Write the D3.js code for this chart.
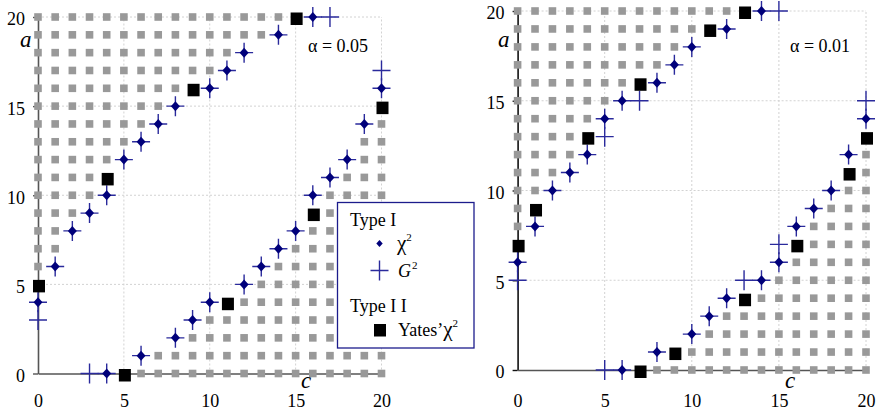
<!DOCTYPE html>
<html>
<head>
<meta charset="utf-8">
<script src="https://cdn.jsdelivr.net/npm/d3@7"></script>
<style>
  html, body { margin: 0; padding: 0; background: #fff; }
  svg, svg text { font-family: "Liberation Serif", "Times New Roman", serif; }
  svg { display: block; }
</style>
</head>
<body>
<svg id="chart" width="880" height="415"></svg>
<script>
// ---- data -----------------------------------------------------------
// Lattice is (c, a) with c, a = 0..20.
const tickValues = [0, 5, 10, 15, 20];
const gridValues = [5, 10, 15, 20];
const panelTitles = ["α = 0.05", "α = 0.01"];

// alpha = 0.05
// grey cells, per row a: upper-left run is c = 0..upperEnd[a], lower-right run is c = lowerStart[a]..20
const greyUpperEnd05   = [-1, -1, -1, -1, -1, -1, 0, 1, 1, 2, 3, 3, 4, 5, 6, 7, 8, 10, 11, 13, 14];
const greyLowerStart05 = [6, 7, 9, 10, 12, 13, 14, 15, 16, 17, 17, 18, 19, 19, 20, 21, 21, 21, 21, 21, 21];
const chi2Points05 = [
  [0, 4], [1, 6], [2, 8], [3, 9], [4, 10], [5, 12], [6, 13], [7, 14], [8, 15],
  [10, 16], [11, 17], [12, 18], [14, 19], [16, 20],
  [4, 0], [6, 1], [8, 2], [9, 3], [10, 4], [12, 5], [13, 6], [14, 7], [15, 8],
  [16, 10], [17, 11], [18, 12], [19, 14], [20, 16]
];
const g2Points05 = [
  [0, 3], [0, 4], [1, 6], [2, 8], [3, 9], [4, 10], [5, 12], [6, 13], [7, 14], [8, 15],
  [10, 16], [11, 17], [12, 18], [14, 19], [16, 20], [17, 20],
  [3, 0], [4, 0], [6, 1], [8, 2], [9, 3], [10, 4], [12, 5], [13, 6], [14, 7], [15, 8],
  [16, 10], [17, 11], [18, 12], [19, 14], [20, 16], [20, 17]
];
const yatesPoints05 = [[0, 5], [4, 11], [9, 16], [15, 20], [5, 0], [11, 4], [16, 9], [20, 15]];

// alpha = 0.01
const greyUpperEnd01   = [-1, -1, -1, -1, -1, -1, -1, -1, 0, 0, 1, 2, 3, 3, 4, 5, 6, 8, 9, 10, 12];
const greyLowerStart01 = [8, 10, 11, 12, 14, 15, 16, 17, 17, 18, 19, 20, 20, 21, 21, 21, 21, 21, 21, 21, 21];
const chi2Points01 = [
  [0, 6], [1, 8], [2, 10], [3, 11], [4, 12], [5, 14], [6, 15], [8, 16], [9, 17],
  [10, 18], [12, 19], [14, 20],
  [6, 0], [8, 1], [10, 2], [11, 3], [12, 4], [14, 5], [15, 6], [16, 8], [17, 9],
  [18, 10], [19, 12], [20, 14]
];
const g2Points01 = [
  [0, 5], [0, 6], [1, 8], [2, 10], [3, 11], [4, 12], [5, 13], [5, 14], [6, 15], [7, 15],
  [8, 16], [9, 17], [10, 18], [12, 19], [14, 20], [15, 20],
  [5, 0], [6, 0], [8, 1], [10, 2], [11, 3], [12, 4], [13, 5], [14, 5], [15, 6], [15, 7],
  [16, 8], [17, 9], [18, 10], [19, 12], [20, 14], [20, 15]
];
const yatesPoints01 = [[0, 7], [1, 9], [4, 13], [7, 16], [11, 19], [13, 20], [7, 0], [9, 1], [13, 4], [16, 7], [19, 11], [20, 13]];

// ---- drawing --------------------------------------------------------
const svg = d3.select("#chart");
const SERIF = '"Liberation Serif", "Times New Roman", serif';

const COLORS = {
  grey: "#999999",
  grid: "#d2d2d2",
  diamond: "#00007a",
  cross: "#2a2a9c",
  yates: "#000000",
  legendBorder: "#1c1c8c"
};

const diamondPath = "M0,-5L4.5,0L0,5L-4.5,0Z";
const crossPath = "M-9,0H9M0,-10V10";

function greyCells(upperEnd, lowerStart) {
  const cells = [];
  upperEnd.forEach((end, a) => {
    for (let c = 0; c <= end; c++) cells.push([c, a]);
  });
  lowerStart.forEach((start, a) => {
    for (let c = start; c <= 20; c++) cells.push([c, a]);
  });
  return cells;
}

function drawPanel(layout, data) {
  const x = d3.scaleLinear().domain([0, 20]).range([layout.x0, layout.x1]);
  const y = d3.scaleLinear().domain([0, 20]).range([layout.y0, layout.y1]);
  const g = svg.append("g");

  // dotted grid
  const grid = g.append("g")
    .attr("stroke", COLORS.grid)
    .attr("stroke-width", 1)
    .attr("stroke-dasharray", "2,2");
  grid.selectAll("line.v").data(gridValues).join("line")
    .attr("class", "v")
    .attr("x1", d => x(d)).attr("x2", d => x(d))
    .attr("y1", y(0)).attr("y2", y(20));
  grid.selectAll("line.h").data(gridValues).join("line")
    .attr("class", "h")
    .attr("x1", x(0)).attr("x2", x(20))
    .attr("y1", d => y(d)).attr("y2", d => y(d));

  // axes
  const yAxis = g.append("g")
    .attr("transform", `translate(${x(0)},0)`)
    .call(d3.axisLeft(y).tickValues(tickValues).tickSize(5).tickSizeOuter(0)
      .tickPadding(8).tickFormat(d3.format("d")));
  yAxis.attr("font-family", null).style("font-family", SERIF).attr("font-size", 18);
  yAxis.select(".domain").attr("stroke", layout.yAxisColor).attr("stroke-width", 1.6);
  yAxis.selectAll(".tick line").attr("stroke", layout.yAxisColor).attr("stroke-width", 1.4);
  yAxis.selectAll(".tick text")
    .attr("dy", "0.44em")
    .attr("fill", "#000")
    .style("font-family", SERIF)
    .style("font-size", "18px");

  const xAxis = g.append("g")
    .attr("transform", `translate(0,${y(0)})`)
    .call(d3.axisBottom(x).tickValues(tickValues).tickSize(0).tickSizeOuter(0)
      .tickFormat(d3.format("d")));
  xAxis.attr("font-family", null).style("font-family", SERIF).attr("font-size", 18);
  xAxis.select(".domain").attr("stroke", "#555").attr("stroke-width", 1.6);
  xAxis.selectAll(".tick text")
    .attr("y", 407 - layout.y0)
    .attr("dy", 0)
    .attr("fill", "#000")
    .style("font-family", SERIF)
    .style("font-size", "18px");

  // grey cells
  const cells = greyCells(data.upperEnd, data.lowerStart);
  g.append("g").selectAll("rect").data(cells).join("rect")
    .attr("x", d => x(d[0]) - 3.8)
    .attr("y", d => y(d[1]) - 3.8)
    .attr("width", 7.6).attr("height", 7.6)
    .attr("fill", COLORS.grey);

  // G^2 crosses
  g.append("g").selectAll("path").data(data.g2).join("path")
    .attr("transform", d => `translate(${x(d[0])},${y(d[1])})`)
    .attr("d", crossPath)
    .attr("fill", "none")
    .attr("stroke", COLORS.cross)
    .attr("stroke-width", 1.4);

  // chi^2 diamonds
  g.append("g").selectAll("path").data(data.chi2).join("path")
    .attr("transform", d => `translate(${x(d[0])},${y(d[1])})`)
    .attr("d", diamondPath)
    .attr("fill", COLORS.diamond);

  // Yates' chi^2 squares
  g.append("g").selectAll("rect").data(data.yates).join("rect")
    .attr("x", d => x(d[0]) - 5)
    .attr("y", d => y(d[1]) - 4.5)
    .attr("width", 12).attr("height", 12.5)
    .attr("fill", COLORS.yates);

  // axis names
  g.append("text")
    .attr("x", layout.aLabelX).attr("y", 46.5)
    .style("font-size", "23px").style("font-style", "italic")
    .text("a");
  g.append("text")
    .attr("x", layout.cLabelX).attr("y", 388)
    .style("font-size", "23px").style("font-style", "italic")
    .text("c");

  // significance level
  g.append("text")
    .attr("x", layout.titleX).attr("y", 51.5)
    .style("font-size", "18px")
    .text(layout.title);
}

drawPanel(
  { x0: 38, x1: 381.5, y0: 373.5, y1: 17, yAxisColor: "#555", aLabelX: 20, cLabelX: 301, titleX: 308, title: panelTitles[0] },
  { upperEnd: greyUpperEnd05, lowerStart: greyLowerStart05, chi2: chi2Points05, g2: g2Points05, yates: yatesPoints05 }
);
drawPanel(
  { x0: 517.6, x1: 866, y0: 370, y1: 11, yAxisColor: "#111", aLabelX: 498, cLabelX: 785, titleX: 790, title: panelTitles[1] },
  { upperEnd: greyUpperEnd01, lowerStart: greyLowerStart01, chi2: chi2Points01, g2: g2Points01, yates: yatesPoints01 }
);

// ---- legend ---------------------------------------------------------
const legend = svg.append("g").style("font-size", "18px");
legend.append("rect")
  .attr("x", 337.5).attr("y", 202.5)
  .attr("width", 136.5).attr("height", 145.5)
  .attr("fill", "#fff")
  .attr("stroke", COLORS.legendBorder)
  .attr("stroke-width", 1.3);

legend.append("text").attr("x", 350).attr("y", 226).text("Type I");

legend.append("path")
  .attr("transform", "translate(379.5,243.5)")
  .attr("d", "M0,-3.6L3.2,0L0,3.6L-3.2,0Z")
  .attr("fill", COLORS.diamond);
const chiText = legend.append("text").attr("x", 397).attr("y", 250);
chiText.append("tspan").style("font-size", "21px").text("χ");
chiText.append("tspan").style("font-size", "11px").attr("dy", -9).text("2");

legend.append("path")
  .attr("transform", "translate(379.5,270.5)")
  .attr("d", crossPath)
  .attr("fill", "none")
  .attr("stroke", COLORS.cross)
  .attr("stroke-width", 1.4);
const gText = legend.append("text").attr("x", 398).attr("y", 277);
gText.append("tspan").style("font-style", "italic").text("G");
gText.append("tspan").style("font-size", "11px").attr("dy", -8).attr("dx", 1).text("2");

legend.append("text").attr("x", 350).attr("y", 312).text("Type I I");

legend.append("rect")
  .attr("x", 374).attr("y", 324)
  .attr("width", 12).attr("height", 12.5)
  .attr("fill", COLORS.yates);
const yText = legend.append("text").attr("x", 398).attr("y", 336);
yText.append("tspan").text("Yates’");
yText.append("tspan").style("font-size", "21px").text("χ");
yText.append("tspan").style("font-size", "11px").attr("dy", -9).text("2");
</script>
</body>
</html>
